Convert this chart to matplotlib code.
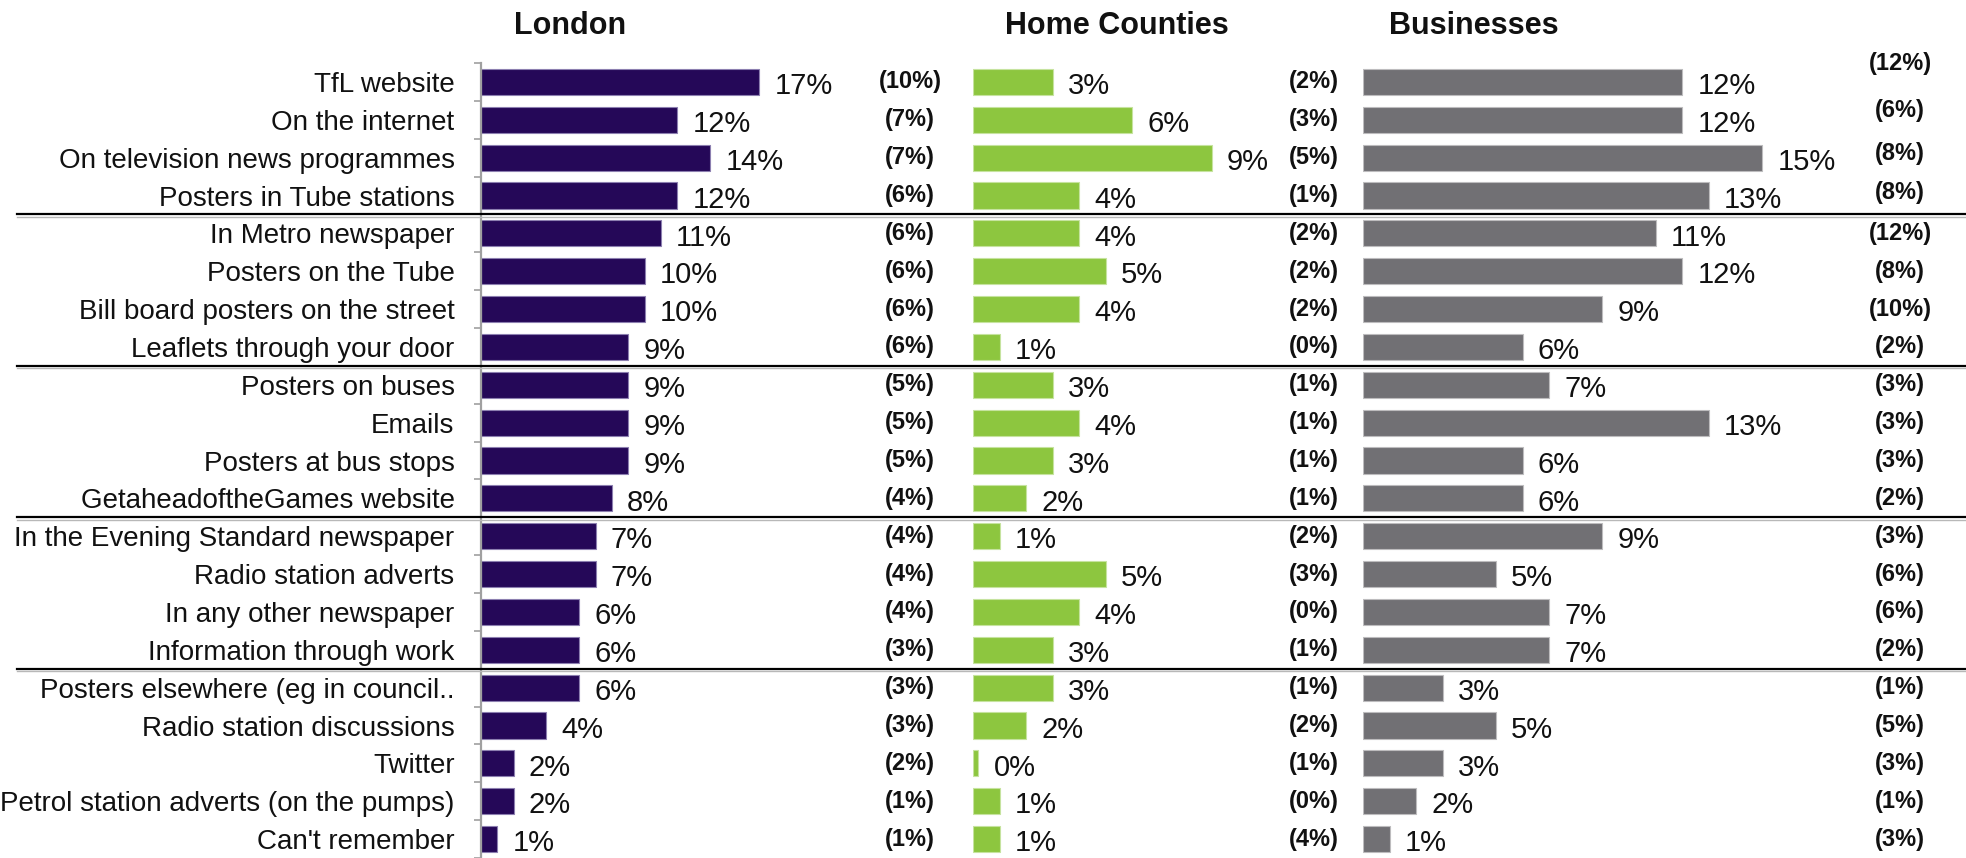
import matplotlib
matplotlib.use("Agg")
import matplotlib.pyplot as plt
from matplotlib.transforms import blended_transform_factory
from matplotlib.lines import Line2D

plt.rcParams['font.family'] = ['Liberation Sans', 'DejaVu Sans']

categories = [
    "TfL website", "On the internet", "On television news programmes",
    "Posters in Tube stations", "In Metro newspaper", "Posters on the Tube",
    "Bill board posters on the street", "Leaflets through your door",
    "Posters on buses", "Emails", "Posters at bus stops",
    "GetaheadoftheGames website", "In the Evening Standard newspaper",
    "Radio station adverts", "In any other newspaper", "Information through work",
    "Posters elsewhere (eg in council..", "Radio station discussions", "Twitter",
    "Petrol station adverts (on the pumps)", "Can't remember",
]
london = [17, 12, 14, 12, 11, 10, 10, 9, 9, 9, 9, 8, 7, 7, 6, 6, 6, 4, 2, 2, 1]
london_prev = [10, 7, 7, 6, 6, 6, 6, 6, 5, 5, 5, 4, 4, 4, 4, 3, 3, 3, 2, 1, 1]
home = [3, 6, 9, 4, 4, 5, 4, 1, 3, 4, 3, 2, 1, 5, 4, 3, 3, 2, 0.2, 1, 1]
home_prev = [2, 3, 5, 1, 2, 2, 2, 0, 1, 1, 1, 1, 2, 3, 0, 1, 1, 2, 1, 0, 4]
business = [12, 12, 15, 13, 11, 12, 9, 6, 7, 13, 6, 6, 9, 5, 7, 7, 3, 5, 3, 2, 1]
business_prev = [12, 6, 8, 8, 12, 8, 10, 2, 3, 3, 3, 2, 3, 6, 6, 2, 1, 5, 3, 1, 3]
titles = ["London", "Home Counties", "Businesses"]

W, H = 1966, 858
fig = plt.figure(figsize=(W / 100, H / 100), dpi=100)

top_px = 63
row_px = 37.86
n = len(categories)
ax_bottom = 1 - (top_px + n * row_px) / H
ax_height = (n * row_px) / H

# (left px, width px, px per percent, color, edge, values, prev, prev x px, title x px)
panels = [
    (481, 470, 16.36, "#250858", "#8c7fb0", london, london_prev, 910, 570),
    (973, 380, 26.5, "#8dc63f", "#c6e39f", home, home_prev, 1314, 1117),
    (1363, 600, 26.6, "#717074", "#bdbcbe", business, business_prev, 1900, 1474),
]
biz_dy = [-0.5, -0.25, -0.12, -0.08] + [0] * (n - 4)

axes = []
for i, (lpx, wpx, ppp, col, edge, vals, prev, px_prev, tx) in enumerate(panels):
    ax = fig.add_axes([lpx / W, ax_bottom, wpx / W, ax_height])
    axes.append(ax)
    y = list(range(n))
    ax.barh(y, vals, height=0.69, color=col, edgecolor=edge, linewidth=0.8)
    ax.set_xlim(0, wpx / ppp)
    ax.set_ylim(n - 0.5, -0.5)
    ax.set_xticks([])
    for s in ["top", "right", "bottom"]:
        ax.spines[s].set_visible(False)
    for yi, v in zip(y, vals):
        ax.annotate(f"{v:.0f}%", (v, yi), xytext=(11, -3), textcoords="offset points",
                    ha="left", va="center", fontsize=21, color="#111111")
    tr = blended_transform_factory(fig.transFigure, ax.transData)
    for yi, p in zip(y, prev):
        dy = biz_dy[yi] if i == 2 else 0
        ax.text(px_prev / W, yi + dy, f"({p}%)", transform=tr, ha="center", va="center",
                fontsize=17, fontweight="bold", color="#111111")
    fig.text(tx / W, 1 - 26 / H, titles[i], ha="center", va="center",
             fontsize=22, fontweight="bold", color="#111111")
    if i == 0:
        ax.spines["left"].set_color("#a0a0a0")
        ax.spines["left"].set_linewidth(1.6)
        ax.set_yticks(y)
        ax.set_yticklabels(categories, fontsize=20, color="#111111")
        ax.tick_params(axis="y", which="major", length=0, pad=19)
        ax.set_yticks([k - 0.5 for k in range(n + 1)], minor=True)
        ax.tick_params(axis="y", which="minor", length=5, width=1.2, color="#a0a0a0")
    else:
        ax.spines["left"].set_visible(False)
        ax.set_yticks([])

# group separator lines across the whole figure
tr0 = blended_transform_factory(fig.transFigure, axes[0].transData)
for b in [4, 8, 12, 16]:
    yb = b - 0.5
    fig.add_artist(Line2D([17 / W, 1.0], [yb, yb], transform=tr0, color="#000000",
                          linewidth=1.6, zorder=10))
    fig.add_artist(Line2D([17 / W, 1.0], [yb + 0.06, yb + 0.06], transform=tr0,
                          color="#b8b8b8", linewidth=1.0, zorder=10))

fig.savefig("out.png", dpi=100, facecolor="white")
